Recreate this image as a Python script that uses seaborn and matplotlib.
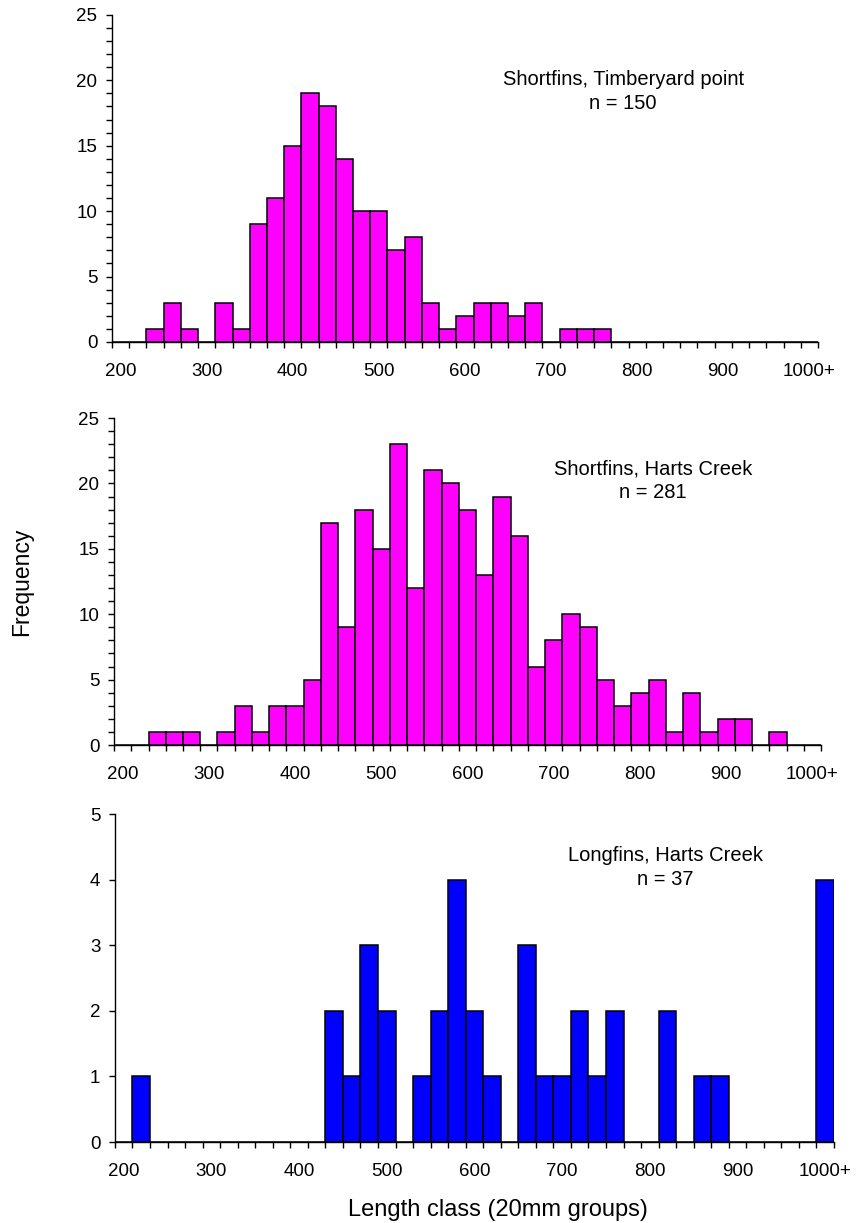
import numpy as np
import pandas as pd
import seaborn as sns
import matplotlib.pyplot as plt
from matplotlib.ticker import FixedLocator, MultipleLocator

# ----------------------------------------------------------------------------
# Data: eel length-frequency, 20 mm classes (lower bound), last class = 1000+
# ----------------------------------------------------------------------------
class_lower = [200, 220, 240, 260, 280, 300, 320, 340, 360, 380,
               400, 420, 440, 460, 480, 500, 520, 540, 560, 580,
               600, 620, 640, 660, 680, 700, 720, 740, 760, 780,
               800, 820, 840, 860, 880, 900, 920, 940, 960, 980,
               1000]

counts_short_timberyard = [0, 0, 1, 3, 1, 0, 3, 1, 9, 11,
                           15, 19, 18, 14, 10, 10, 7, 8, 3, 1,
                           2, 3, 3, 2, 3, 0, 1, 1, 1, 0,
                           0, 0, 0, 0, 0, 0, 0, 0, 0, 0,
                           0]

counts_short_harts = [0, 0, 1, 1, 1, 0, 1, 3, 1, 3,
                      3, 5, 17, 9, 18, 15, 23, 12, 21, 20,
                      18, 13, 19, 16, 6, 8, 10, 9, 5, 3,
                      4, 5, 1, 4, 1, 2, 2, 0, 1, 0,
                      0]

counts_long_harts = [0, 1, 0, 0, 0, 0, 0, 0, 0, 0,
                     0, 0, 2, 1, 3, 2, 0, 1, 2, 4,
                     2, 1, 0, 3, 1, 1, 2, 1, 2, 0,
                     0, 2, 0, 1, 1, 0, 0, 0, 0, 0,
                     4]

label_classes = [200, 300, 400, 500, 600, 700, 800, 900, 1000]
label_texts = ["200", "300", "400", "500", "600", "700", "800", "900", "1000+"]

panel_titles = ["Shortfins, Timberyard point\nn = 150",
                "Shortfins, Harts Creek\nn = 281",
                "Longfins, Harts Creek\nn = 37"]

CLASS_WIDTH = 20
edges = class_lower + [class_lower[-1] + CLASS_WIDTH]

# ----------------------------------------------------------------------------
# Figure
# ----------------------------------------------------------------------------
sns.set_style("ticks")
plt.rcParams['font.family'] = ['Liberation Sans', 'DejaVu Sans']
plt.rcParams['text.color'] = 'black'
plt.rcParams['axes.labelcolor'] = 'black'

fig = plt.figure(figsize=(8.56, 12.23), dpi=100)

# [left, bottom, width, height] in figure fractions
positions = [
    [0.1308, 0.7204, 0.8248, 0.2674],
    [0.1332, 0.3908, 0.8260, 0.2674],
    [0.1343, 0.0662, 0.8400, 0.2682],
]
panels = [
    (counts_short_timberyard, "#FF00FF", 25, 5, (0.724, 0.766)),
    (counts_short_harts, "#FF00FF", 25, 5, (0.762, 0.809)),
    (counts_long_harts, "#0000FF", 5, 1, (0.766, 0.837)),
]

for pos, (counts, colour, ymax, ystep, txt_xy), title in zip(positions, panels, panel_titles):
    ax = fig.add_axes(pos)
    df = pd.DataFrame({"length": class_lower, "n": counts})
    sns.histplot(data=df, x="length", weights="n", bins=edges,
                 color=colour, edgecolor="black", linewidth=1.1,
                 alpha=1, ax=ax)

    ax.set_xlim(edges[0], edges[-1])
    ax.set_ylim(0, ymax)
    ax.set_xlabel("")
    ax.set_ylabel("")

    # y axis: labelled ticks plus small ticks every unit
    ax.yaxis.set_major_locator(MultipleLocator(ystep))
    if ystep > 1:
        ax.yaxis.set_minor_locator(MultipleLocator(1))
    ax.tick_params(axis="y", which="both", direction="out", length=4.5,
                   width=1.0, labelsize=13.5, pad=6, colors="black")

    # x axis: labels centred in the class, ticks at class boundaries
    centres = [c + CLASS_WIDTH / 2 for c in label_classes]
    ax.xaxis.set_major_locator(FixedLocator(centres))
    ax.set_xticklabels(label_texts)
    ax.xaxis.set_minor_locator(FixedLocator(edges))
    ax.tick_params(axis="x", which="major", length=0, labelsize=13.5, pad=15,
                   colors="black")
    ax.tick_params(axis="x", which="minor", direction="out", length=4.5,
                   width=1.0, colors="black")

    for side in ["left", "bottom"]:
        ax.spines[side].set_linewidth(1.0)
        ax.spines[side].set_color("black")
    sns.despine(ax=ax)

    ax.text(txt_xy[0], txt_xy[1], title, transform=ax.transAxes,
            ha="center", va="center", fontsize=14.5, linespacing=1.3,
            color="black")

fig.text(22 / 856, 1 - 582 / 1223, "Frequency", rotation=90,
         ha="center", va="center", fontsize=16.5, color="black")
fig.text(498 / 856, 1 - 1210 / 1223, "Length class (20mm groups)",
         ha="center", va="center", fontsize=17, color="black")

fig.savefig("out.png", dpi=100)
